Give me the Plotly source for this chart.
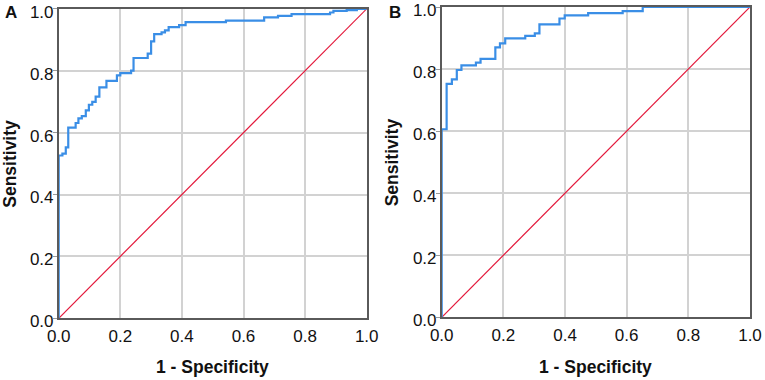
import plotly.graph_objects as go

# Panel A ROC curve (1 - specificity, sensitivity) step corners
fpr_a = [0.0, 0.0, 0.012, 0.023, 0.031, 0.055, 0.064, 0.075, 0.088, 0.098, 0.109, 0.120,
         0.132, 0.155, 0.189, 0.200, 0.235, 0.243, 0.289, 0.300, 0.310, 0.334, 0.345,
         0.357, 0.391, 0.412, 0.543, 0.667, 0.712, 0.756, 0.881, 0.892, 0.935, 0.968, 1.0]
tpr_a = [0.0, 0.526, 0.532, 0.552, 0.616, 0.631, 0.646, 0.653, 0.672, 0.690, 0.699, 0.716,
         0.746, 0.767, 0.785, 0.792, 0.800, 0.841, 0.855, 0.895, 0.918, 0.924, 0.930,
         0.941, 0.947, 0.957, 0.962, 0.972, 0.977, 0.983, 0.988, 0.993, 0.996, 1.0, 1.0]

# Panel B ROC curve
fpr_b = [0.0, 0.0, 0.016, 0.033, 0.049, 0.064, 0.111, 0.126, 0.174, 0.189, 0.206, 0.271,
         0.302, 0.317, 0.382, 0.399, 0.475, 0.587, 0.652, 1.0]
tpr_b = [0.0, 0.606, 0.752, 0.767, 0.797, 0.812, 0.821, 0.833, 0.870, 0.883, 0.899, 0.907,
         0.915, 0.944, 0.963, 0.973, 0.980, 0.987, 1.0, 1.0]

# Reference line
ref_x = [0.0, 1.0]
ref_y = [0.0, 1.0]

tick_vals = [0.0, 0.2, 0.4, 0.6, 0.8, 1.0]
tick_text = ["0.0", "0.2", "0.4", "0.6", "0.8", "1.0"]

panel_labels = ["A", "B"]
x_title = "1 - Specificity"
y_title = "Sensitivity"

W, H = 765, 380
BLUE = "#3a8ee6"
RED = "#e3173a"
FONT = "Liberation Sans, Arial, sans-serif"

fig = go.Figure()
for i, (fx, ty) in enumerate([(fpr_a, tpr_a), (fpr_b, tpr_b)]):
    xa = "x" if i == 0 else "x2"
    ya = "y" if i == 0 else "y2"
    fig.add_trace(go.Scatter(x=ref_x, y=ref_y, mode="lines", xaxis=xa, yaxis=ya,
                             line=dict(color=RED, width=1.2), showlegend=False,
                             hoverinfo="skip"))
    fig.add_trace(go.Scatter(x=fx, y=ty, mode="lines", xaxis=xa, yaxis=ya,
                             line=dict(color=BLUE, width=2.2, shape="hv"),
                             showlegend=False))

# pixel geometry -> paper domains
pa = dict(x0=58.7, x1=366.7, yt=8.8, yb=318.3)
pb = dict(x0=441.7, x1=750.0, yt=7.0, yb=317.3)

def xdom(p):
    return [p["x0"] / W, p["x1"] / W]

def ydom(p):
    return [(H - p["yb"]) / H, (H - p["yt"]) / H]

axis_common = dict(
    range=[0, 1], tickvals=tick_vals, ticktext=tick_text, showgrid=True,
    gridcolor="#d2d2d2", gridwidth=1.5, zeroline=False, showline=True,
    linecolor="#5a5a5a", linewidth=1.5, mirror=True,
    tickfont=dict(family=FONT, size=17, color="#111111"), automargin=False,
    fixedrange=True, ticklabeloverflow="allow",
)
xaxis_style = dict(ticks="", ticklabelstandoff=2, **axis_common)
yaxis_style = dict(ticks="outside", ticklen=4, tickcolor="#9a9a9a",
                   ticklabelstandoff=-4, ticklabelshift=3, **axis_common)

fig.update_layout(
    width=W, height=H, margin=dict(l=0, r=0, t=0, b=0),
    paper_bgcolor="white", plot_bgcolor="white",
    xaxis=dict(domain=xdom(pa), anchor="y", **xaxis_style),
    yaxis=dict(domain=ydom(pa), anchor="x", **yaxis_style),
    xaxis2=dict(domain=xdom(pb), anchor="y2", **xaxis_style),
    yaxis2=dict(domain=ydom(pb), anchor="x2", **yaxis_style),
)

title_font = dict(family=FONT, size=17.5, color="#111111")
ann = []
for p, lab, lx in [(pa, panel_labels[0], 10.5), (pb, panel_labels[1], 395.0)]:
    cx = (p["x0"] + p["x1"]) / 2
    cy = (p["yt"] + p["yb"]) / 2
    ann.append(dict(text="<b>%s</b>" % x_title, x=cx / W, y=(H - 367) / H,
                    xref="paper", yref="paper", xanchor="center", yanchor="middle",
                    showarrow=False, font=title_font))
    ann.append(dict(text="<b>%s</b>" % y_title, x=(p["x0"] - 49.5) / W, y=(H - cy) / H,
                    xref="paper", yref="paper", xanchor="center", yanchor="middle",
                    textangle=-90, showarrow=False, font=title_font))
    ann.append(dict(text="<b>%s</b>" % lab, x=lx / W, y=(H - 12.5) / H,
                    xref="paper", yref="paper", xanchor="center", yanchor="middle",
                    showarrow=False, font=dict(family=FONT, size=17, color="#111111")))
fig.update_layout(annotations=ann)

# remove the default 8px page margin so the 765x380 figure fills the window exactly
fig.write_html("out.html", config={"displayModeBar": False},
               post_script="document.body.style.margin='0px';")
